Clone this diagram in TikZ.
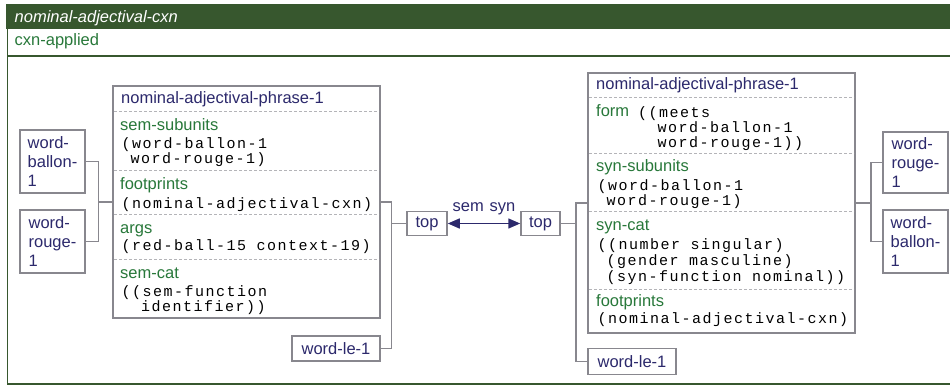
\documentclass[tikz,border=0pt]{standalone}
\usepackage{fontspec}
\setmainfont{Liberation Sans}
\newfontfamily\fcgmono[LetterSpace=10]{Liberation Mono}
\usetikzlibrary{arrows.meta}

\definecolor{cxngreen}{RGB}{55,87,46}
\definecolor{featgreen}{RGB}{40,120,58}
\definecolor{unitblue}{RGB}{44,41,108}
\definecolor{boxgray}{RGB}{136,135,142}
\definecolor{sepgray}{RGB}{180,180,184}

\tikzset{
  unit/.style={draw=boxgray, line width=1.5pt, fill=white, inner sep=0pt},
  wordunit/.style={unit, text=unitblue, align=left,
    font=\fontsize{16.5}{19}\selectfont},
  unitname/.style={anchor=base west, inner sep=0pt, text=unitblue,
    font=\fontsize{16.5}{19}\selectfont},
  featname/.style={anchor=base west, inner sep=0pt, text=featgreen,
    font=\fontsize{16.5}{19}\selectfont},
  featval/.style={anchor=base west, inner sep=0pt, align=left,
    font=\fontsize{15}{15}\fcgmono},
  sep/.style={draw=sepgray, line width=0.8pt, dash pattern=on 3pt off 2pt},
  link/.style={draw=boxgray, line width=1.5pt},
}

\begin{document}
\begin{tikzpicture}[x=1pt, y=-1pt, >={Triangle[length=12pt,width=10pt]}]

    \useasboundingbox (0,0) rectangle (950,385);

    % First draw the frame of the construction
    \fill[cxngreen] (6,4) rectangle (950,29);
    \node[anchor=base west, inner sep=0pt, text=white,
      font=\fontsize{16.5}{19}\selectfont\itshape] (cxn) at (14.5,22.5) {nominal-adjectival-cxn};
    \node[anchor=base west, inner sep=0pt, text=featgreen,
      font=\fontsize{16.5}{19}\selectfont] (status) at (14.5,46) {cxn-applied};
    \draw[cxngreen, line width=2pt] (7,56.3) -- (950,56.3);
    \draw[cxngreen, line width=1.5pt] (7.5,29) -- (7.5,383.8) -- (950,383.8);

    % Left: the semantic pole
    \node[wordunit, minimum width=65pt, minimum height=63pt] (wbL) at (52.5,161.5) {word-\\ballon-\\1};
    \node[wordunit, minimum width=65pt, minimum height=63pt] (wrL) at (52.5,241.5) {word-\\rouge-\\1};
    \node[unit, minimum width=267pt, minimum height=232pt] (phL) at (246.5,202) {};
    \node[wordunit, minimum width=88pt, minimum height=25pt] (wlL) at (336,348.5) {word-le-1};
    \node[wordunit, minimum width=40pt, minimum height=24pt] (topL) at (427,223.5) {top};

    \foreach \y in {111, 170, 214, 259.5}
      \draw[sep] (114,\y) -- (379,\y);

    % multi-line values sit on the baseline of their last line
    \node[unitname] (phLname) at (121,104) {nominal-adjectival-phrase-1};
    \node[featname] (semsub) at (120,131) {sem-subunits};
    \node[featval] (semsubval) at (121.5,164) {(word-ballon-1\\\hphantom{(}word-rouge-1)};
    \node[featname] (fpL) at (120,189.5) {footprints};
    \node[featval] (fpLval) at (121.5,208.3) {(nominal-adjectival-cxn)};
    \node[featname] (args) at (120,233.3) {args};
    \node[featval] (argsval) at (121.5,250.7) {(red-ball-15 context-19)};
    \node[featname] (semcat) at (120,278.3) {sem-cat};
    \node[featval] (semcatval) at (121.5,311.7) {((sem-function\\\hphantom{((}identifier))};

    \draw[link] (phL.west) -- ++(-14,0) |- (wbL.east);
    \draw[link] (phL.west) -- ++(-14,0) |- (wrL.east);
    \draw[link] (topL.west) -- ++(-15,0) |- (phL.east);
    \draw[link] (topL.west) -- ++(-15,0) |- (wlL.east);

    % Right: the syntactic pole
    \node[wordunit, minimum width=39pt, minimum height=24pt] (topR) at (540.5,223.5) {top};
    \node[unit, minimum width=267pt, minimum height=260pt] (phR) at (721.5,203) {};
    \node[wordunit, minimum width=88pt, minimum height=26pt] (wlR) at (632,361.5) {word-le-1};
    \node[wordunit, minimum width=65pt, minimum height=61pt] (wrR) at (915.5,162.5) {word-\\rouge-\\1};
    \node[wordunit, minimum width=65pt, minimum height=63pt] (wbR) at (915.5,241.5) {word-\\ballon-\\1};

    \foreach \y in {97, 153, 211, 289.3}
      \draw[sep] (589,\y) -- (854,\y);

    \node[unitname] (phRname) at (596,89.3) {nominal-adjectival-phrase-1};
    \node[featname] (form) at (596,117) {form};
    \node[featval] (formval) at (638,147.5) {((meets\\\hphantom{((}word-ballon-1\\\hphantom{((}word-rouge-1))};
    \node[featname] (synsub) at (596,171.7) {syn-subunits};
    \node[featval] (synsubval) at (597.5,205.7) {(word-ballon-1\\\hphantom{(}word-rouge-1)};
    \node[featname] (syncat) at (596,230) {syn-cat};
    \node[featval] (syncatval) at (597.5,281) {((number singular)\\[0.8pt]\hphantom{(}(gender masculine)\\[0.8pt]\hphantom{(}(syn-function nominal))};
    \node[featname] (fpR) at (596,306.7) {footprints};
    \node[featval] (fpRval) at (597.5,323.3) {(nominal-adjectival-cxn)};

    \draw[link] (topR.east) -- ++(15,0) |- (phR.west);
    \draw[link] (topR.east) -- ++(15,0) |- (wlR.west);
    \draw[link] (phR.east) -- ++(15,0) |- (wrR.west);
    \draw[link] (phR.east) -- ++(15,0) |- (wbR.west);

    % The link between both poles
    \draw[<->, unitblue, line width=1.5pt] (topL.east) --
      node[above, yshift=4pt, text=unitblue, font=\fontsize{16.5}{19}\selectfont] (semsyn) {sem\hspace{6pt}syn} (topR.west);
  \end{tikzpicture}
\end{document}
